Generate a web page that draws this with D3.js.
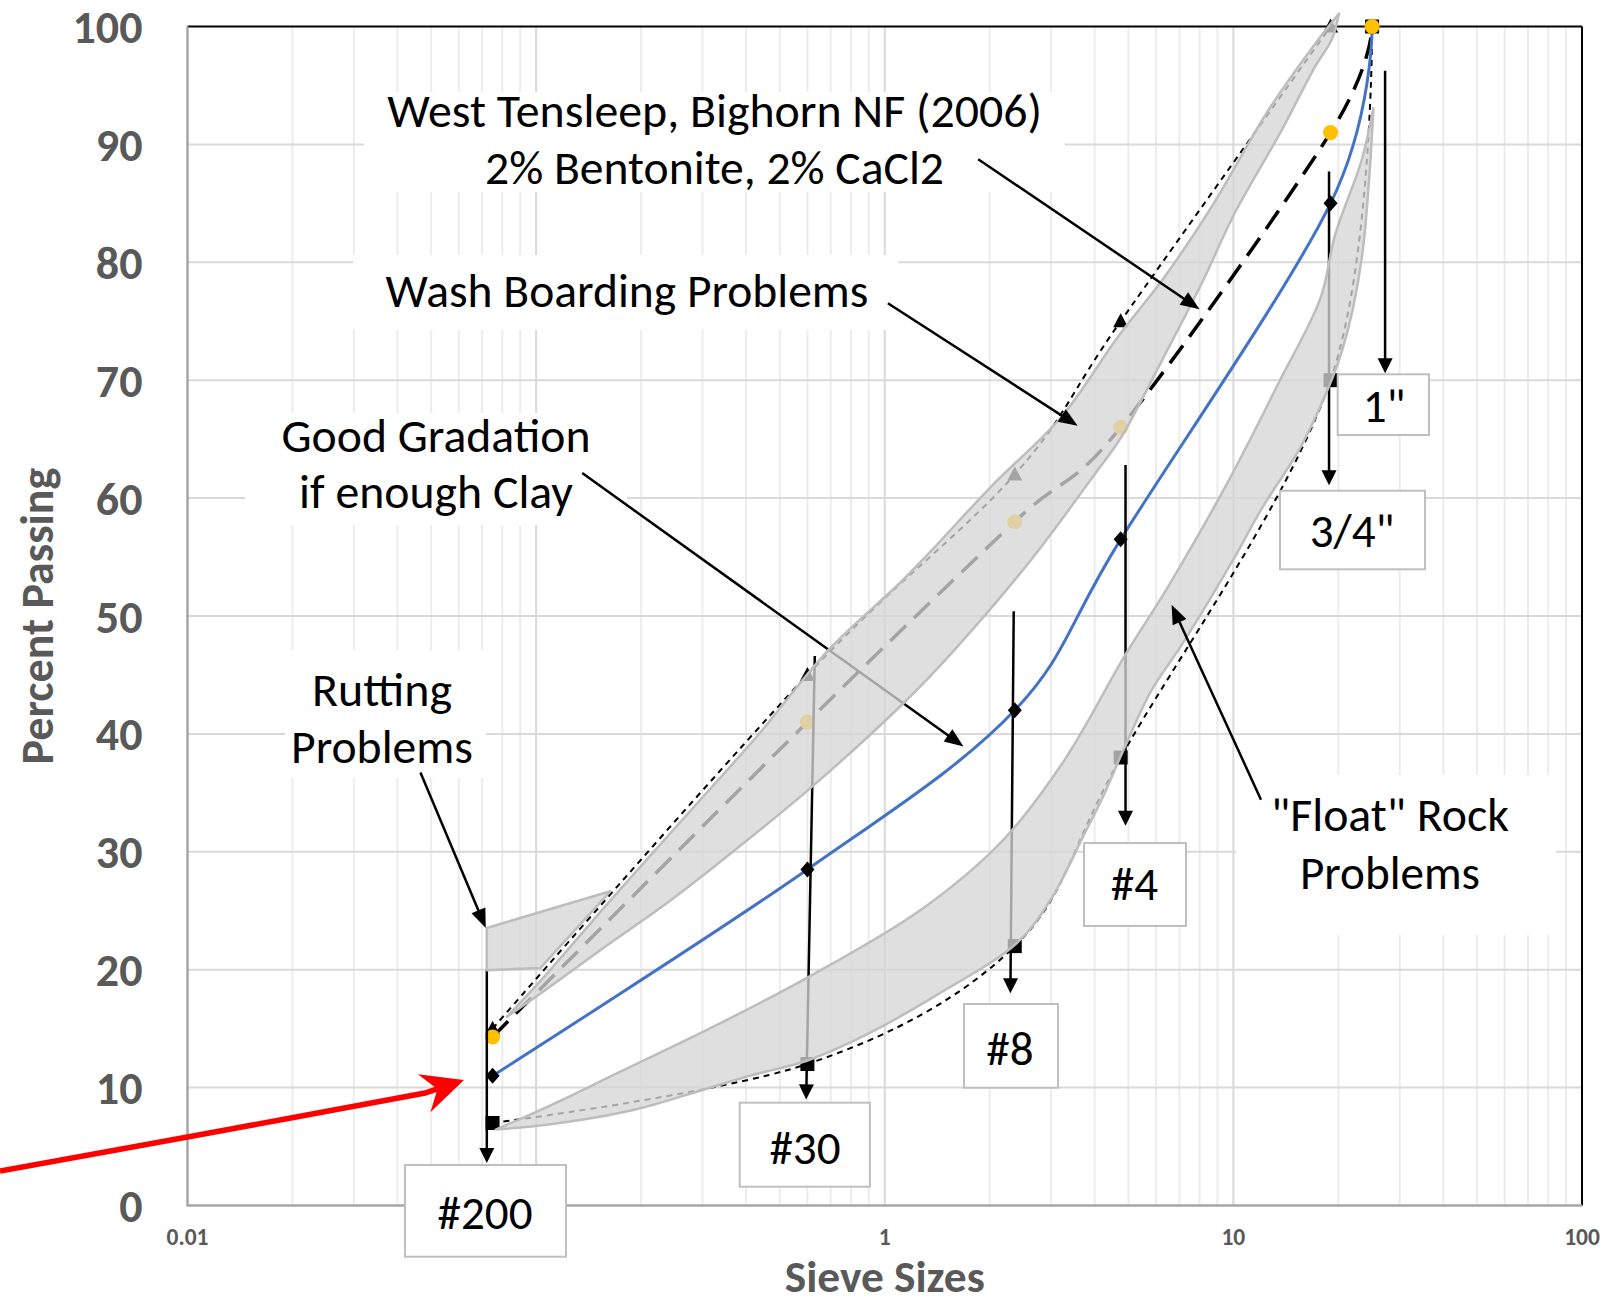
<!DOCTYPE html>
<html>
<head>
<meta charset="utf-8">
<script src="https://cdn.jsdelivr.net/npm/d3@7/dist/d3.min.js"></script>
<style>
  html, body { margin: 0; padding: 0; background: #ffffff; }
  svg { display: block; }
</style>
</head>
<body>
<svg id="chart" width="1605" height="1309" xmlns="http://www.w3.org/2000/svg"></svg>
<script>
// ================= DATA =================
const sieveLabels = ["#200", "#30", "#8", "#4", "3/4\"", "1\""];
const sieveSizes = [0.075, 0.6, 2.36, 4.75, 19, 25];          // mm
const sampleValues = [11, 28.5, 42, 56.5, 85, 100];            // blue line, diamonds
const tensleepValues = [14.3, 41, 58, 66, 91, 100];            // long dash, circles
const upperLimitValues = [15, 45, 62, 75, 100, null];          // short dash, triangles
const lowerLimitValues = [7, 12, 22, 38, 70, 100];             // short dash, squares
const yTickValues = [0, 10, 20, 30, 40, 50, 60, 70, 80, 90, 100];
const xTickValues = [0.01, 1, 10, 100];
const xTickLabels = ["0.01", "1", "10", "100"];

// shaded problem zones, outlines as [size mm, percent]
const washUpperEdge = [[0.0824,16.0],[0.104,19.2],[0.167,26.2],[0.268,33.0],[0.43,39.8],[0.689,47.1],[1.105,52.8],[1.366,55.6],[2.022,61.0],[3.213,66.9],[4.673,73.7],[6.362,78.8],[8.66,84.7],[12.6,92.9],[17.53,98.9],[20.1,101.1]];
const washLowerEdge = [[20.1,101.1],[19.15,98.9],[17.15,96.6],[13.76,91.2],[10.1,84.2],[8.11,78.2],[6.22,71.6],[4.776,65.2],[4.04,62.2],[2.634,54.8],[1.56,46.9],[1.131,42.6],[0.612,35.4],[0.339,29.2],[0.2384,25.7],[0.1535,21.7],[0.1032,18.0],[0.0824,16.0]];
const floatUpperEdge = [[0.0766,6.44],[0.11,8.5],[0.1675,11.1],[0.329,15.3],[0.602,19.35],[1.273,25.1],[2.186,31.0],[3.28,37.8],[4.92,46.8],[6.5,52.5],[9.7,61.5],[13.5,69.8],[17.8,77.0],[19.57,82.3],[23.35,88.7],[25.22,93.06]];
const floatLowerEdge = [[25.22,93.06],[24.5,87.0],[23.5,81.0],[22.0,76.0],[20.5,72.5],[19.3,70.3],[15.7,64.5],[12.0,59.0],[10.0,54.8],[7.2,47.8],[5.8,43.6],[4.9,39.0],[4.2,34.5],[3.75,31.6],[3.0,26.0],[2.4,22.3],[1.4,17.8],[0.9,14.6],[0.6,12.3],[0.41,11.0],[0.3,9.8],[0.19,8.1],[0.11,6.9],[0.0766,6.44]];
const ruttingZone = [[0.0722,23.54],[0.1632,26.65],[0.1029,20.15],[0.0722,19.95]];

// sieve pointer arrows (top, tip) in [size, percent]
const sieveArrowTop = [[0.0722,20.0],[0.630,46.6],[2.344,50.4],[4.905,62.8],[18.81,87.7],[27.24,96.25]];
const sieveArrowTip = [[0.0722,3.6],[0.595,9.0],[2.293,18.0],[4.905,32.2],[18.81,61.1],[27.24,70.6]];

// callout arrows [from, to] in [size, percent]
const tensleepArrow = [[1.854,88.74],[8.00,76.02]];
const washArrow = [[1.021,76.53],[3.575,66.13]];
const gradationArrow = [[0.1356,62.12],[1.682,38.94]];
const ruttingArrow = [[0.04658,36.73],[0.0717,23.54]];
const floatArrow = [[12.0,34.42],[6.65,50.95]];
const redArrowPath = [[0.002898,2.93],[0.01,5.81],[0.048,9.54]];
const redArrowTip = [0.0621,10.64];

// callout texts
const noteTexts = ["West Tensleep, Bighorn NF (2006)", "2% Bentonite, 2% CaCl2", "Wash Boarding Problems",
                   "Good Gradation", "if enough Clay", "Rutting", "Problems", "\"Float\" Rock", "Problems"];

// ================= LAYOUT =================
const FONT = "Carlito, Calibri, Lato, 'Noto Sans', sans-serif";
const x = d3.scaleLog().domain([0.01, 100]).range([187.5, 1582]);
const y = d3.scaleLinear().domain([0, 100]).range([1205.5, 26.5]);
const svg = d3.select("#chart");
svg.append("rect").attr("width", 1605).attr("height", 1309).attr("fill", "#fff");

const X0 = x(0.01), X1 = x(100), Y0 = y(0), Y1 = y(100);

// note layout: centre x, baseline y, target width
const noteLayout = [
  [714.6,126.7,655],[714.5,183.5,459],[627,307.3,483],
  [436,451.7,309],[436,508,274],[382,706,140],[382,762.6,182],
  [1390,831,238],[1390,888.5,180]
];
// white backgrounds of the text boxes [x0,y0,x1,y1]
const noteBoxes = [[364,92,1065,192],[353,255,898,330],[245,413,627,525],[285,650,486,778],[1236,775,1556,935]];
// sieve label boxes [x0,y0,x1,y1,textCx,textCy]
const labelBoxes = [
  [405,1165,566,1256.7,485,1211.7],
  [739.7,1102.7,869.9,1186.7,805,1146.7],
  [964,1004,1058,1087.7,1010,1048],
  [1084,843,1186,926,1134.5,883],
  [1280,490.7,1425,569.3,1352,530],
  [1337.7,374.3,1429,435,1384,405]
];

function fitText(sel, target) {
  sel.style("font-size", "40px");
  const w = sel.node().getComputedTextLength();
  const s = 40 * target / w;
  sel.style("font-size", s + "px");
  return s;
}

// ---- gridlines ----
const grid = svg.append("g");
const allTicks = x.ticks();
const isMajor = v => Math.abs(Math.log10(v) - Math.round(Math.log10(v))) < 1e-6;
grid.selectAll("line.minor").data(allTicks.filter(v => !isMajor(v))).join("line")
  .attr("x1", d => x(d)).attr("x2", d => x(d)).attr("y1", Y1).attr("y2", Y0)
  .attr("stroke", "#ececec").attr("stroke-width", 2);
grid.selectAll("line.major").data(allTicks.filter(v => isMajor(v) && v > 0.01 && v < 100)).join("line")
  .attr("x1", d => x(d)).attr("x2", d => x(d)).attr("y1", Y1).attr("y2", Y0)
  .attr("stroke", "#d9d9d9").attr("stroke-width", 2);
grid.selectAll("line.h").data(yTickValues.filter(v => v > 0 && v < 100)).join("line")
  .attr("x1", X0).attr("x2", X1).attr("y1", d => y(d)).attr("y2", d => y(d))
  .attr("stroke", "#d9d9d9").attr("stroke-width", 2);

// white backgrounds of callout text boxes
svg.append("g").selectAll("rect").data(noteBoxes).join("rect")
  .attr("x", d => d[0]).attr("y", d => d[1]).attr("width", d => d[2]-d[0]).attr("height", d => d[3]-d[1])
  .attr("fill", "#fff");

// plot border
svg.append("line").attr("x1", X0).attr("x2", X1).attr("y1", Y1).attr("y2", Y1).attr("stroke", "#000").attr("stroke-width", 2);
svg.append("line").attr("x1", X1).attr("x2", X1).attr("y1", Y1).attr("y2", Y0).attr("stroke", "#000").attr("stroke-width", 2);
svg.append("line").attr("x1", X0).attr("x2", X0).attr("y1", Y1).attr("y2", Y0+1).attr("stroke", "#a6a6a6").attr("stroke-width", 2.5);
svg.append("line").attr("x1", X0).attr("x2", X1).attr("y1", Y0).attr("y2", Y0).attr("stroke", "#a6a6a6").attr("stroke-width", 2.5);

// ---- series ----
const smooth = d3.line().x(d => x(d[0])).y(d => y(d[1])).curve(d3.curveCatmullRom.alpha(0));
const pts = vals => sieveSizes.map((s, i) => [s, vals[i]]).filter(d => d[1] != null);
const series = svg.append("g").attr("fill", "none");
series.append("path").attr("d", smooth(pts(upperLimitValues))).attr("stroke", "#000").attr("stroke-width", 2).attr("stroke-dasharray", "6,5");
series.append("path").attr("d", smooth(pts(lowerLimitValues))).attr("stroke", "#000").attr("stroke-width", 2).attr("stroke-dasharray", "6,5");
series.append("path").attr("d", smooth(pts(tensleepValues))).attr("stroke", "#000").attr("stroke-width", 3.5).attr("stroke-dasharray", "22,11");
series.append("path").attr("d", smooth(pts(sampleValues))).attr("stroke", "#4472C4").attr("stroke-width", 3);

const marks = svg.append("g");
marks.selectAll("path.tri").data(pts(upperLimitValues)).join("path")
  .attr("d", d => `M${x(d[0])},${y(d[1])-8}L${x(d[0])+7.5},${y(d[1])+6}L${x(d[0])-7.5},${y(d[1])+6}Z`).attr("fill", "#000");
marks.selectAll("rect.sq").data(pts(lowerLimitValues)).join("rect")
  .attr("x", d => x(d[0])-7).attr("y", d => y(d[1])-7).attr("width", 14).attr("height", 14).attr("fill", "#000");
marks.selectAll("path.dia").data(pts(sampleValues)).join("path")
  .attr("d", d => `M${x(d[0])},${y(d[1])-8}L${x(d[0])+7},${y(d[1])}L${x(d[0])},${y(d[1])+8}L${x(d[0])-7},${y(d[1])}Z`).attr("fill", "#000");
marks.selectAll("circle").data(pts(tensleepValues)).join("circle")
  .attr("cx", d => x(d[0])).attr("cy", d => y(d[1])).attr("r", 7.5).attr("fill", "#FFC000");

// ---- arrows ----
function arrow(g, from, to, opts) {
  const x1 = x(from[0]), y1 = y(from[1]), x2 = x(to[0]), y2 = y(to[1]);
  const a = Math.atan2(y2 - y1, x2 - x1);
  const len = opts.len, wid = opts.wid;
  const bx = x2 - len * Math.cos(a), by = y2 - len * Math.sin(a);
  const px = -Math.sin(a) * wid / 2, py = Math.cos(a) * wid / 2;
  g.append("line").attr("x1", x1).attr("y1", y1).attr("x2", bx + Math.cos(a)*2).attr("y2", by + Math.sin(a)*2)
    .attr("stroke", opts.color).attr("stroke-width", opts.sw);
  g.append("path").attr("d", `M${x2},${y2}L${bx+px},${by+py}L${bx-px},${by-py}Z`).attr("fill", opts.color);
}
const under = svg.append("g");
sieveArrowTop.forEach((t, i) => arrow(under, t, sieveArrowTip[i], {len: 15, wid: 15, sw: 2.5, color: "#000"}));
arrow(under, gradationArrow[0], gradationArrow[1], {len: 19, wid: 15, sw: 2.5, color: "#000"});

// ---- shaded zones (semi transparent, over everything below) ----
const edge = d3.line().x(d => x(d[0])).y(d => y(d[1])).curve(d3.curveCatmullRom.alpha(0.5));
const zone = (a, b) => edge(a) + "L" + edge(b).slice(1) + "Z";
const zones = svg.append("g").attr("fill", "rgb(214,214,214)").attr("fill-opacity", 0.77)
  .attr("stroke", "#bdbdbd").attr("stroke-width", 2.5).attr("stroke-linejoin", "round");
zones.append("path").attr("d", zone(washUpperEdge, washLowerEdge));
zones.append("path").attr("d", zone(floatUpperEdge, floatLowerEdge));
zones.append("path").attr("d", d3.line().x(d => x(d[0])).y(d => y(d[1]))(ruttingZone) + "Z");

// ---- callout arrows above zones ----
const over = svg.append("g");
[tensleepArrow, washArrow, ruttingArrow, floatArrow].forEach(a => arrow(over, a[0], a[1], {len: 19, wid: 15, sw: 2.5, color: "#000"}));

// ---- callout texts ----
const notesG = svg.append("g").attr("font-family", FONT).attr("fill", "#000");
noteTexts.forEach((t, i) => {
  const L = noteLayout[i];
  const el = notesG.append("text").attr("x", L[0]).attr("y", L[1]).attr("text-anchor", "middle").text(t);
  fitText(el, L[2]);
});

// ---- sieve label boxes ----
const lbl = svg.append("g").attr("font-family", FONT);
let labelSize = null;
{
  const probe = lbl.append("text").text(sieveLabels[0]);
  labelSize = fitText(probe, 95);
  probe.remove();
}
labelBoxes.forEach((b, i) => {
  lbl.append("rect").attr("x", b[0]).attr("y", b[1]).attr("width", b[2]-b[0]).attr("height", b[3]-b[1])
    .attr("fill", "#fff").attr("stroke", "#bfbfbf").attr("stroke-width", 2);
  lbl.append("text").attr("x", b[4]).attr("y", b[5] + 0.36 * labelSize).attr("text-anchor", "middle")
    .style("font-size", labelSize + "px").attr("fill", "#000").text(sieveLabels[i]);
});

// ---- red pointer arrow ----
{
  const g = svg.append("g");
  const curve = d3.line().x(d => x(d[0])).y(d => y(d[1])).curve(d3.curveCatmullRom.alpha(0.5));
  const last = redArrowPath[redArrowPath.length - 1];
  const tx = x(redArrowTip[0]), ty = y(redArrowTip[1]);
  const lx = x(last[0]), ly = y(last[1]);
  const a = Math.atan2(ty - ly, tx - lx);
  const c = Math.cos(a), s = Math.sin(a);
  const L = 42, Wd = 40, N = 28;
  const bx = tx - L * c, by = ty - L * s;
  const nx = tx - N * c, ny = ty - N * s;
  g.append("path").attr("d", curve(redArrowPath) + `L${nx},${ny}`).attr("fill", "none")
    .attr("stroke", "#ff0000").attr("stroke-width", 5.5);
  g.append("path").attr("d", `M${tx},${ty}L${bx - s*Wd/2},${by + c*Wd/2}L${nx},${ny}L${bx + s*Wd/2},${by - c*Wd/2}Z`)
    .attr("fill", "#ff0000");
}

// ---- axes labels ----
const axG = svg.append("g").attr("font-family", FONT).attr("font-weight", "bold").attr("fill", "#595959");
let ySize;
{
  const probe = axG.append("text").text("100");
  ySize = fitText(probe, 70);
  probe.remove();
}
axG.selectAll("text.yt").data(yTickValues).join("text")
  .attr("x", 142.5).attr("y", d => y(d) + 0.36 * ySize).attr("text-anchor", "end")
  .style("font-size", ySize + "px").text(d => d);
let xSize;
{
  const probe = axG.append("text").text(xTickLabels[0]);
  xSize = fitText(probe, 42);
  probe.remove();
}
axG.selectAll("text.xt").data(xTickValues).join("text")
  .attr("x", d => x(d)).attr("y", 1236.7 + 0.36 * xSize).attr("text-anchor", "middle")
  .style("font-size", xSize + "px").text((d, i) => xTickLabels[i]);
{
  const t = axG.append("text").attr("x", (X0 + X1) / 2).attr("y", 1292).attr("text-anchor", "middle").text("Sieve Sizes");
  fitText(t, 200);
  const p = axG.append("text").attr("transform", `translate(53,${(Y0 + Y1) / 2}) rotate(-90)`)
    .attr("text-anchor", "middle").text("Percent Passing");
  fitText(p, 297);
}
</script>
</body>
</html>
